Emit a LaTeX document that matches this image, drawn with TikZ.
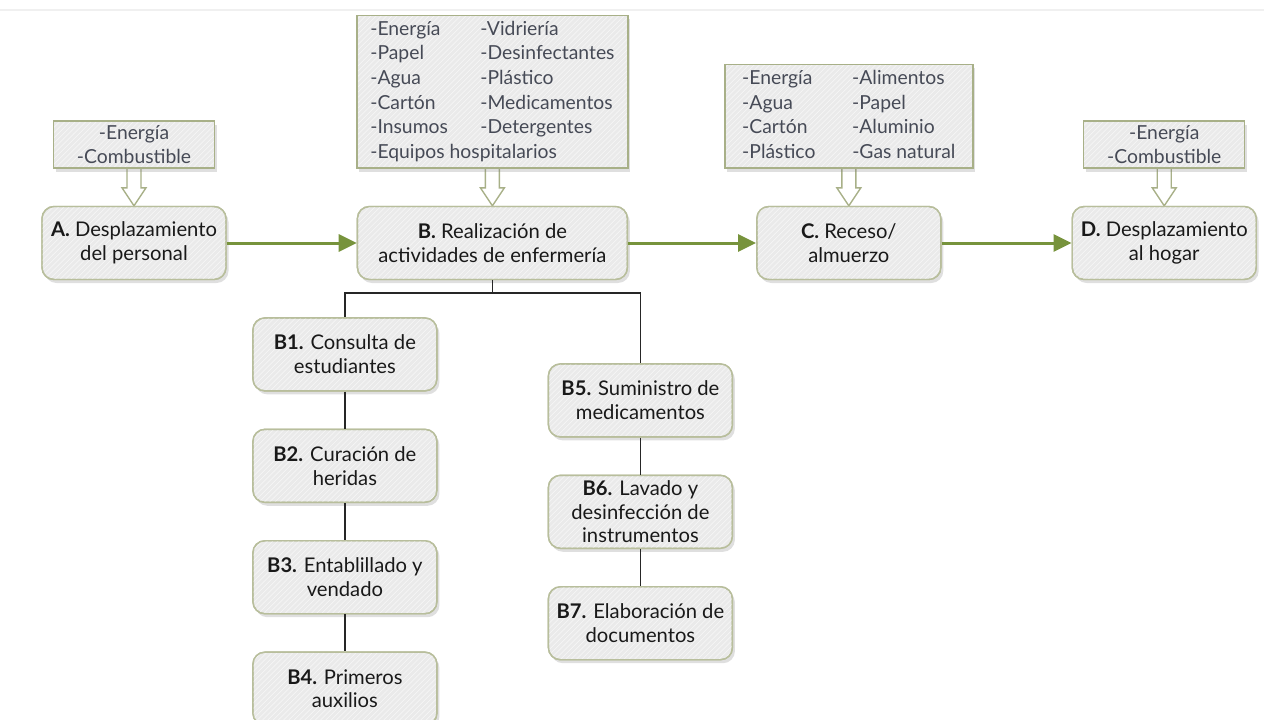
\documentclass[tikz,border=0pt]{standalone}
\usepackage{fontspec}
\setmainfont{Lato}
\usetikzlibrary{positioning,calc,shadows,patterns,arrows.meta,backgrounds}

\definecolor{boxline}{RGB}{184,190,156}
\definecolor{inline}{RGB}{168,176,136}
\definecolor{boxfill}{RGB}{234,234,234}
\definecolor{flowgreen}{RGB}{119,147,60}
\definecolor{intext}{RGB}{70,74,86}

\tikzset{
  hatched/.style = {fill=boxfill, postaction={pattern=north east lines, pattern color=white!55!boxfill}},
  shade/.style = {drop shadow={shadow xshift=0.5mm, shadow yshift=-0.7mm, opacity=0.25}},
  main/.style = {draw=boxline, line width=0.8pt, rounded corners=2.4mm, hatched, shade,
    postaction={draw=boxline, line width=0.8pt},
    minimum width=36.8mm, minimum height=14.6mm, align=center, inner sep=1mm,
    text=black!90, font={\fontsize{11.5}{13.5}\selectfont}},
  input/.style = {draw=inline, line width=0.8pt, hatched, shade,
    postaction={draw=inline, line width=0.8pt}, align=center,
    inner sep=0.5mm, text=intext, font={\fontsize{11}{14}\selectfont}},
  feed/.style = {draw=inline, line width=0.8pt, fill=white},
  flow/.style = {draw=flowgreen, line width=1.7pt, -{Triangle[length=3.6mm, width=3.4mm]}},
  tree/.style = {draw=black!85, line width=1pt}
}

% fat arrow from an input box to its activity
\newcommand{\feedarrow}[2]{%
  \draw[feed] ($(#2.north |- #1.south)+(-7,0)$) -- ($(#2.north)+(-7,-18)$)
    -- ($(#2.north)+(-12,-18)$) -- (#2.north) -- ($(#2.north)+(12,-18)$)
    -- ($(#2.north)+(7,-18)$) -- ($(#2.north |- #1.south)+(7,0)$);}

\begin{document}
\begin{tikzpicture}[x=0.2mm, y=-0.2mm, node distance=26mm]
  \useasboundingbox (0,0) rectangle (1264,719);
  \draw[black!6, line width=1pt] (0,10) -- (1264,10);

  % main sequence
  \node[main] (A) at (134,243) {\textbf{A.} Desplazamiento\\del personal};
  \node[main, minimum width=54mm, right=of A] (B) {\textbf{B.} Realización de\\actividades de enfermería};
  \node[main, right=25.6mm of B] (C) {\textbf{C.} Receso/\\almuerzo};
  \node[main, right=of C] (D) {\textbf{D.} Desplazamiento\\al hogar};

  % inputs
  \node[input, minimum width=32.2mm, minimum height=9.4mm, above=7.4mm of A] (iA) {-Energía\\-Combustible};
  \node[input, minimum width=54.2mm, minimum height=30.4mm, above=7.4mm of B] (iB) {%
    \begin{tabular}{@{}p{22mm}@{}l@{}}
      -Energía & -Vidriería\\
      -Papel & -Desinfectantes\\
      -Agua & -Plástico\\
      -Cartón & -Medicamentos\\
      -Insumos & -Detergentes\\
      \multicolumn{2}{@{}l@{}}{-Equipos hospitalarios}
    \end{tabular}};
  \node[input, minimum width=49.6mm, minimum height=20.4mm, above=7.4mm of C] (iC) {%
    \begin{tabular}{@{}p{22mm}@{}l@{}}
      -Energía & -Alimentos\\
      -Agua & -Papel\\
      -Cartón & -Aluminio\\
      -Plástico & -Gas natural
    \end{tabular}};
  \node[input, minimum width=32.2mm, minimum height=9.4mm, above=7.4mm of D] (iD) {-Energía\\-Combustible};

  % sub-activities of B
  \node[main, below=7.4mm of B, xshift=-29.5mm] (B1) {\textbf{B1.} Consulta de\\estudiantes};
  \node[main, below=7.4mm of B1] (B2) {\textbf{B2.} Curación de\\heridas};
  \node[main, below=7.4mm of B2] (B3) {\textbf{B3.} Entablillado y\\vendado};
  \node[main, below=7.4mm of B3] (B4) {\textbf{B4.} Primeros\\auxilios};
  \node[main, below=16.6mm of B, xshift=29.6mm] (B5) {\textbf{B5.} Suministro de\\medicamentos};
  \node[main, below=7.4mm of B5] (B6) {\textbf{B6.} Lavado y\\desinfección de\\instrumentos};
  \node[main, below=7.4mm of B6] (B7) {\textbf{B7.} Elaboración de\\documentos};

  \begin{scope}[on background layer]
    \feedarrow{iA}{A}
    \feedarrow{iB}{B}
    \feedarrow{iC}{C}
    \feedarrow{iD}{D}
  \end{scope}

  \draw[flow] (A) -- (B);
  \draw[flow] (B) -- (C);
  \draw[flow] (C) -- (D);

  \draw[tree] (B.south) -- ++(0,13) -| (B1.north);
  \draw[tree] (B.south) ++(0,13) -| (B5.north);
  \draw[tree] (B1) -- (B2) -- (B3) -- (B4);
  \draw[tree] (B5) -- (B6) -- (B7);
\end{tikzpicture}
\end{document}
